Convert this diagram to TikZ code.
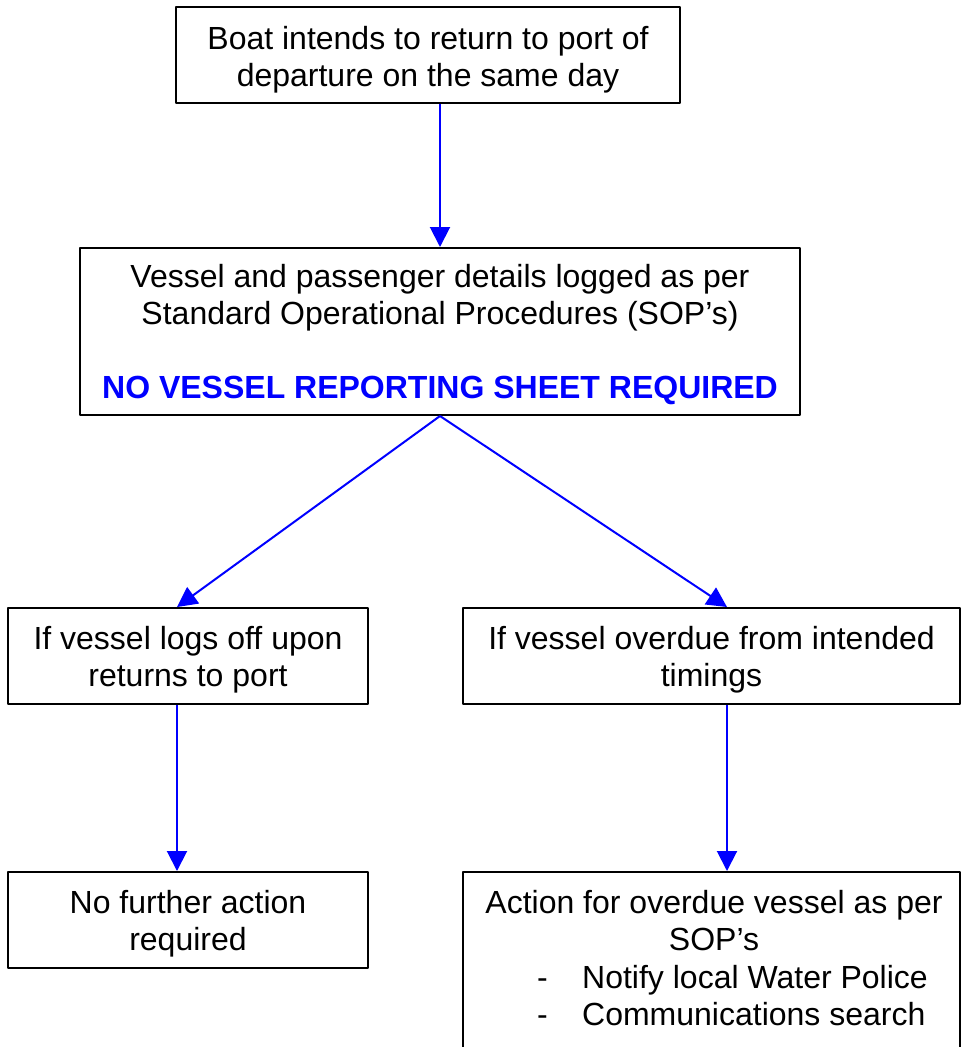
\documentclass[tikz,border=0pt]{standalone}
\usepackage{fontspec}
\setmainfont{Liberation Sans}
\usetikzlibrary{arrows.meta,positioning}
\newcommand\topgap[1]{\rule{0pt}{#1}}
\tikzset{
  box/.style={draw=black,line width=2pt,align=center,inner sep=0pt,minimum height=96pt},
  link/.style={draw=blue,line width=2pt,-{Triangle[length=20pt,width=20pt]}}
}
\begin{document}
\begin{tikzpicture}[x=1pt,y=-1pt,line join=round,font=\fontsize{32pt}{37pt}\selectfont]
	\path[use as bounding box,clip] (0,0) rectangle (961,1047);
	\node[box,minimum width=504pt] (start) at (428,55) {\topgap{32pt}Boat intends to return to port of\\departure on the same day};
	\node[box,minimum width=720pt,minimum height=167pt] (vsl) at (440,331.5) {\topgap{30pt}Vessel and passenger details logged as per\\Standard Operational Procedures (SOP's)\\[37pt]\textcolor{blue}{\bfseries NO VESSEL REPORTING SHEET REQUIRED}};
	\node[box,minimum width=360pt] (log) at (188,656) {\topgap{30pt}If vessel logs off upon\\returns to port};
	\node[box,minimum width=497pt] (ovd) at (711.5,656) {\topgap{30pt}If vessel overdue from intended\\timings};
	\node[box,minimum width=360pt] (nfa) at (188,920) {\topgap{30pt}No further action\\required};
	\node[box,minimum width=497pt,minimum height=193pt] (act) at (711.5,968.5) {};
	\node[align=center,inner sep=0pt] (acttext) at (714,921) {Action for overdue vessel as per\\SOP's};
	\node[align=left,inner sep=0pt,anchor=west] (actlist) at (537,996) {\makebox[45pt][l]{-}Notify local Water Police\\\makebox[45pt][l]{-}Communications search};
	\draw[link] (vsl.north |- start.south) -- (vsl.north);
	\draw[link] (vsl.south) -- ([xshift=-11pt]log.north);
	\draw[link] (vsl.south) -- ([xshift=15.5pt]ovd.north);
	\draw[link] ([xshift=-11pt]log.south) -- ([xshift=-11pt]nfa.north);
	\draw[link] ([xshift=15.5pt]ovd.south) -- ([xshift=15.5pt]act.north);
\end{tikzpicture}
\end{document}
